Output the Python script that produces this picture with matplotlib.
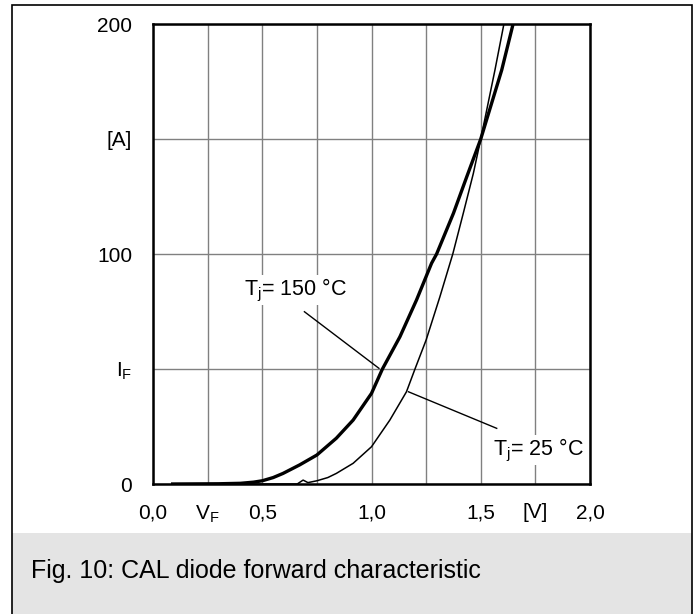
import matplotlib
matplotlib.use("Agg")
import matplotlib.pyplot as plt
from matplotlib.patches import Rectangle

plt.rcParams['font.family'] = ['Liberation Sans', 'DejaVu Sans']
plt.rcParams['mathtext.fontset'] = 'custom'
plt.rcParams['mathtext.rm'] = 'Liberation Sans'
plt.rcParams['mathtext.it'] = 'Liberation Sans:italic'

# forward characteristic, Tj = 150 C (thick)
vf_150 = [0.09, 0.30, 0.40, 0.46, 0.50, 0.55, 0.595, 0.671, 0.75, 0.839, 0.916, 1.0,
          1.05, 1.13, 1.206, 1.275, 1.298, 1.375, 1.436, 1.50, 1.596, 1.648]
if_150 = [0, 0.1, 0.3, 0.8, 1.4, 2.8, 4.6, 8.3, 12.6, 19.9, 27.8, 39.4,
          50, 64, 80, 96, 100, 117.7, 133.6, 150, 180, 200]

# forward characteristic, Tj = 25 C (thin)
vf_25 = [0.09, 0.40, 0.66, 0.687, 0.709, 0.75, 0.80, 0.839, 0.916, 1.0, 1.084,
         1.16, 1.199, 1.25, 1.313, 1.372, 1.42, 1.466, 1.50, 1.565, 1.606]
if_25 = [0, 0, 0, 1.7, 0.6, 1.4, 2.8, 4.6, 9, 16.2, 27.8,
         40.1, 50, 62.6, 81.4, 100, 117.7, 135, 150, 180, 200]

x_ticks = [0, 0.25, 0.5, 0.75, 1.0, 1.25, 1.5, 1.75, 2.0]
x_labels = ['0,0', 'V$_\\mathrm{F}$', '0,5', '', '1,0', '', '1,5', '[V]', '2,0']
y_ticks = [0, 50, 100, 150, 200]
y_labels = ['0', 'I$_\\mathrm{F}$', '100', '[A]', '200']

fig = plt.figure(figsize=(6.97, 6.14), dpi=100)

# page frame and grey caption band
fig.patches.append(Rectangle((12/697, (614-533)/614 - 0.2), 680/697, 0.2,
                             transform=fig.transFigure, facecolor='#e4e4e4',
                             edgecolor='none', zorder=0))
fig.patches.append(Rectangle((12/697, -0.01), 680/697, 1 - 5/614 + 0.01,
                             transform=fig.transFigure, facecolor='none',
                             edgecolor='black', lw=1.2, zorder=1))

ax = fig.add_axes([153/697, 1 - 484/614, 437/697, 460/614])
ax.set_xlim(0, 2.0)
ax.set_ylim(0, 200)
ax.set_xticks(x_ticks)
ax.set_xticklabels(x_labels, fontsize=15)
ax.set_yticks(y_ticks)
ax.set_yticklabels(y_labels, fontsize=15)
ax.tick_params(length=0, pad=15)
ax.tick_params(axis='x', pad=14)
ax.grid(True, color='#808080', lw=1.0)
ax.set_axisbelow(True)
for s in ax.spines.values():
    s.set_linewidth(1.8)

ax.plot(vf_150, if_150, color='black', lw=2.4, solid_joinstyle='round')
ax.plot(vf_25, if_25, color='black', lw=1.1, solid_joinstyle='round')

# leader lines
ax.plot([0.693, 1.034], [74.9, 50.3], color='black', lw=1.0)
ax.plot([1.169, 1.573], [40.1, 24.2], color='black', lw=1.0)

box = dict(facecolor='white', edgecolor='none', pad=1)
ax.text(0.4165, 84.3, 'T$_\\mathrm{j}$= 150 °C', fontsize=15.5, ha='left',
        va='center', bbox=box)
ax.text(1.556, 14.8, 'T$_\\mathrm{j}$= 25 °C', fontsize=15.5, ha='left',
        va='center', bbox=box)

fig.text(31/697, 1 - 571/614, 'Fig. 10: CAL diode forward characteristic',
         fontsize=18, ha='left', va='center')

fig.savefig('out.png', dpi=100)
